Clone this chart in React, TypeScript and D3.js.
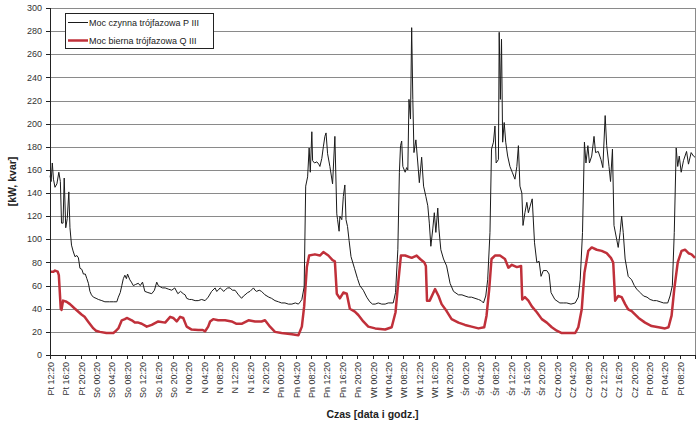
import React from 'react'
import * as d3 from 'd3'

// category labels on the x axis, one every 4 hours starting Friday 12:20
const timeLabels = [
  'Pt 12:20', 'Pt 16:20', 'Pt 20:20',
  'So 00:20', 'So 04:20', 'So 08:20', 'So 12:20', 'So 16:20', 'So 20:20',
  'N 00:20', 'N 04:20', 'N 08:20', 'N 12:20', 'N 16:20', 'N 20:20',
  'Pn 00:20', 'Pn 04:20', 'Pn 08:20', 'Pn 12:20', 'Pn 16:20', 'Pn 20:20',
  'Wt 00:20', 'Wt 04:20', 'Wt 08:20', 'Wt 12:20', 'Wt 16:20', 'Wt 20:20',
  'Śr 00:20', 'Śr 04:20', 'Śr 08:20', 'Śr 12:20', 'Śr 16:20', 'Śr 20:20',
  'Cz 00:20', 'Cz 04:20', 'Cz 08:20', 'Cz 12:20', 'Cz 16:20', 'Cz 20:20',
  'Pt 00:20', 'Pt 04:20', 'Pt 08:20'
]
const hoursPerLabel = 4
const totalHours = 168
const yTicks = d3.range(0, 301, 20)

// [hours since Pt 12:20, kW]
const activePower: [number, number][] = [
  [0, 155], [0.3, 150], [0.6, 166], [0.9, 152], [1.3, 145], [1.8, 148], [2.3, 158], [2.7, 150],
  [3.0, 114], [3.4, 114], [3.7, 153], [4.1, 110], [4.5, 118], [4.9, 141], [5.2, 110], [5.6, 95],
  [6.0, 90], [6.5, 85], [7.0, 86], [7.4, 84], [7.8, 75], [8.3, 74], [8.7, 70], [9.2, 70],
  [9.6, 66], [10.0, 62], [10.4, 55], [10.8, 52], [11.3, 50], [12.0, 49], [12.6, 48], [13.5, 47],
  [14.3, 46], [15.5, 46], [16.5, 46], [17.4, 46], [17.8, 50], [18.3, 54], [18.7, 60], [19.1, 66],
  [19.5, 69], [19.9, 66], [20.2, 70], [20.8, 65], [21.2, 63], [21.7, 60], [22.3, 61], [23.0, 62],
  [23.5, 60], [24.1, 63], [24.7, 55], [25.5, 54], [26.5, 53], [27.2, 56], [27.8, 63], [28.2, 60],
  [28.7, 59], [29.3, 58], [30.0, 58], [30.8, 57], [31.7, 56], [32.5, 58], [33.3, 53], [34.0, 55],
  [34.7, 53], [35.2, 52], [35.6, 49], [36.3, 48], [36.9, 48], [37.8, 47], [38.6, 47], [39.5, 48],
  [40.4, 47], [41.2, 50], [42.1, 55], [43.0, 58], [43.4, 55], [43.8, 56], [44.3, 58], [44.7, 57],
  [45.2, 55], [45.6, 56], [46.2, 58], [46.9, 58], [47.5, 56], [48.2, 56], [49.1, 52], [49.9, 49],
  [50.4, 51], [50.8, 52], [51.5, 54], [52.1, 55], [53.0, 58], [53.4, 56], [53.8, 55], [54.5, 56],
  [55.1, 55], [56.0, 52], [57.0, 50], [57.7, 49], [58.6, 47], [59.5, 46], [60.3, 45], [61.2, 45],
  [62.1, 44], [63.0, 44], [63.9, 45], [64.7, 44], [65.2, 46], [65.6, 48], [66.2, 59], [66.6, 146],
  [67.1, 154], [67.5, 179], [67.8, 158], [68.2, 193], [68.4, 168], [68.9, 166], [69.5, 167], [70.0, 165],
  [70.3, 163], [70.8, 170], [71.2, 180], [71.6, 189], [71.9, 192], [72.3, 174], [72.9, 163], [73.6, 148],
  [74.2, 189], [74.7, 122], [74.9, 117], [75.3, 107], [75.5, 120], [76.0, 117], [76.4, 137], [76.8, 147],
  [77.1, 117], [77.5, 111], [77.9, 99], [78.4, 85], [79.3, 75], [80.1, 66], [80.7, 60], [81.6, 56],
  [82.5, 50], [83.3, 46], [84.0, 44], [84.7, 44], [85.5, 45], [86.4, 44], [87.3, 44], [88.1, 45],
  [89.4, 45], [90.0, 54], [90.6, 91], [91.0, 158], [91.3, 181], [91.6, 185], [91.9, 163], [92.5, 158],
  [92.9, 162], [93.2, 160], [93.5, 221], [93.9, 204], [94.2, 283], [94.5, 221], [94.8, 175], [95.3, 186],
  [95.8, 166], [96.2, 149], [96.8, 171], [97.3, 146], [97.9, 137], [98.4, 129], [98.8, 114], [99.2, 94],
  [99.7, 109], [100.1, 123], [100.5, 106], [101.0, 127], [101.3, 109], [101.8, 91], [102.5, 83], [103.3, 77],
  [104.2, 62], [105.1, 55], [106.4, 52], [107.3, 52], [108.1, 51], [109.0, 50], [109.8, 50], [110.7, 49],
  [111.6, 48], [112.3, 47], [112.9, 45], [113.5, 51], [114.0, 65], [114.6, 106], [115.0, 178], [115.5, 184],
  [115.9, 198], [116.2, 166], [116.8, 169], [117.0, 279], [117.3, 221], [117.6, 273], [117.9, 184], [118.3, 201],
  [118.7, 184], [119.2, 172], [119.8, 163], [120.4, 158], [121.1, 152], [121.6, 163], [122.0, 181], [122.4, 146],
  [122.9, 140], [123.2, 112], [123.7, 123], [124.2, 132], [124.6, 123], [125.0, 128], [125.6, 135], [126.2, 97],
  [126.8, 80], [127.4, 81], [127.9, 68], [128.5, 73], [129.4, 73], [130.0, 70], [130.5, 54], [131.5, 48],
  [132.8, 45], [133.7, 45], [134.6, 45], [135.7, 44], [136.8, 45], [137.6, 50], [138.1, 65], [138.7, 106],
  [139.2, 184], [139.6, 166], [140.1, 181], [140.5, 166], [141.1, 172], [141.7, 189], [142.1, 175], [142.8, 176],
  [143.5, 169], [144.0, 162], [144.6, 207], [145.0, 181], [145.6, 163], [146.0, 150], [146.5, 178], [146.9, 112],
  [147.6, 100], [148.0, 93], [148.5, 106], [148.9, 120], [149.3, 106], [149.8, 83], [150.6, 68], [151.5, 65],
  [152.2, 60], [152.8, 57], [153.7, 54], [154.6, 51], [155.5, 50], [156.3, 48], [157.2, 47], [158.0, 47],
  [158.9, 46], [159.8, 45], [160.9, 45], [161.5, 51], [162.1, 60], [162.6, 106], [163.1, 179], [163.5, 163],
  [163.9, 172], [164.4, 158], [165.0, 168], [165.8, 176], [166.3, 165], [167.0, 175], [167.6, 172], [168.0, 171]
]

// [hours since Pt 12:20, kvar]
const reactivePower: [number, number][] = [
  [0, 72], [0.9, 72], [1.3, 73], [2.0, 72], [2.3, 69], [2.8, 40], [3.0, 39], [3.4, 47],
  [4.3, 46], [5.2, 44], [6.5, 40], [8.2, 35], [9.0, 33], [9.9, 29], [11.3, 23], [12.0, 21],
  [13.0, 20], [14.7, 19], [16.5, 19], [16.9, 20], [17.8, 23], [18.7, 30], [19.5, 31], [20.0, 32],
  [21.3, 30], [22.1, 28], [23.0, 28], [23.9, 27], [25.2, 24.5], [26.5, 26], [28.2, 29], [30.0, 28],
  [31.3, 33], [32.1, 32], [33.0, 29], [33.9, 33], [34.7, 32], [35.6, 24.5], [36.9, 22], [38.6, 21.6],
  [39.8, 21.6], [40.4, 20.5], [41.2, 24.5], [41.7, 29], [42.5, 31], [43.8, 30], [45.6, 30], [47.3, 29],
  [48.6, 27], [49.9, 27], [51.7, 30], [53.4, 29], [55.1, 29], [56.0, 30], [57.3, 24.5], [58.6, 20],
  [60.3, 19], [63.0, 18], [64.7, 17], [65.6, 24.5], [66.2, 42], [66.9, 76], [67.5, 86], [69.0, 87],
  [70.3, 86], [71.2, 89], [72.5, 86], [73.6, 82], [74.2, 81], [74.7, 53], [75.5, 49], [76.4, 54],
  [77.3, 53], [78.1, 40], [79.4, 37.5], [80.3, 34.6], [81.6, 29], [82.9, 24.5], [84.7, 23], [87.3, 22],
  [89.0, 24], [90.0, 37], [90.7, 62.5], [91.4, 86], [92.5, 86], [94.2, 84], [95.5, 86], [96.4, 83],
  [97.5, 80], [97.9, 77], [98.2, 47], [98.9, 47], [100.3, 57], [101.2, 51], [102.0, 44], [103.3, 38],
  [104.6, 31], [106.4, 28], [108.1, 26], [109.8, 24.5], [111.6, 23], [113.1, 24], [113.7, 34], [114.4, 57],
  [115.0, 83], [115.9, 86], [117.2, 86], [118.5, 83], [119.4, 75.5], [120.3, 78], [121.6, 76], [122.7, 77],
  [123.0, 48], [123.7, 50], [124.6, 47], [125.5, 42], [126.8, 37], [128.1, 31], [129.4, 28], [130.7, 24],
  [132.0, 21], [133.3, 19], [135.0, 19], [136.8, 19], [137.6, 24], [138.5, 39.5], [139.2, 71], [140.2, 90],
  [141.1, 93], [142.4, 91], [143.7, 90], [145.0, 88], [146.1, 84], [146.7, 80], [147.2, 47], [148.0, 51],
  [148.9, 50], [149.8, 44], [150.6, 39.5], [151.5, 38], [153.3, 32], [155.0, 28], [156.7, 25], [158.5, 24],
  [160.2, 23], [161.1, 24], [161.9, 34], [162.6, 57], [163.5, 80], [164.5, 90], [165.4, 91], [166.3, 88],
  [167.1, 87], [168.0, 84]
]

const legendItems = [
  { label: 'Moc czynna trójfazowa P III', color: '#1a1a1a', width: 1 },
  { label: 'Moc bierna trójfazowa Q III', color: '#c0303a', width: 2.5 }
]

const font = 'Arial, "Liberation Sans", sans-serif'

export default function App() {
  const width = 700
  const height = 431
  const margin = { top: 8, right: 5, bottom: 76, left: 50 }

  const x = d3.scaleLinear()
    .domain([0, totalHours])
    .range([margin.left, width - margin.right])
  const y = d3.scaleLinear()
    .domain([0, 300])
    .range([height - margin.bottom, margin.top])

  const line = d3.line<[number, number]>()
    .x(d => x(d[0]))
    .y(d => y(d[1]))

  const x0 = x(0)
  const x1 = x(totalHours)
  const yBottom = y(0)

  return (
    <svg
      width={width}
      height={height}
      style={{ position: 'absolute', left: 0, top: 0, background: '#fff' }}
      fontFamily={font}
    >
      {/* horizontal grid */}
      {yTicks.map(t => (
        <line key={t} x1={x0} x2={x1} y1={Math.round(y(t)) + 0.5} y2={Math.round(y(t)) + 0.5}
          stroke="#8a8a8a" strokeWidth={1} />
      ))}
      {/* plot area right border */}
      <line x1={Math.round(x1) + 0.5} x2={Math.round(x1) + 0.5} y1={y(300)} y2={yBottom}
        stroke="#8a8a8a" strokeWidth={1} />

      {/* series */}
      <path d={line(reactivePower) || ''} fill="none" stroke="#c0303a" strokeWidth={2.5} strokeLinejoin="round" />
      <path d={line(activePower) || ''} fill="none" stroke="#1a1a1a" strokeWidth={1} strokeLinejoin="round" />

      {/* y axis */}
      <line x1={Math.round(x0) + 0.5} x2={Math.round(x0) + 0.5} y1={y(300)} y2={yBottom} stroke="#222" />
      {yTicks.map(t => (
        <g key={t}>
          <line x1={x0 - 4} x2={x0} y1={Math.round(y(t)) + 0.5} y2={Math.round(y(t)) + 0.5} stroke="#222" />
          <text x={x0 - 8} y={y(t)} dy="0.35em" textAnchor="end" fontSize={9} fill="#333">{t}</text>
        </g>
      ))}
      <text transform={`translate(12,${(y(0) + y(300)) / 2}) rotate(-90)`} textAnchor="middle"
        dy="0.35em" fontSize={10.5} fontWeight="bold" fill="#222">[kW, kvar]</text>

      {/* x axis */}
      <line x1={x0} x2={x1} y1={Math.round(yBottom) + 0.5} y2={Math.round(yBottom) + 0.5} stroke="#222" />
      {timeLabels.map((label, i) => {
        const tx = Math.round(x(i * hoursPerLabel)) + 0.5
        return (
          <g key={label + i}>
            <line x1={tx} x2={tx} y1={yBottom} y2={yBottom + 4} stroke="#222" />
            <text transform={`translate(${tx},${yBottom + 7}) rotate(-90)`} textAnchor="end" dy="0.35em"
              fontSize={9} fill="#333">{label}</text>
          </g>
        )
      })}
      <line x1={Math.round(x1) + 0.5} x2={Math.round(x1) + 0.5} y1={yBottom} y2={yBottom + 4} stroke="#222" />
      <text x={(x0 + x1) / 2} y={418} textAnchor="middle" fontSize={10.5} fontWeight="bold" fill="#222">
        Czas [data i godz.]
      </text>

      {/* legend */}
      <rect x={65.5} y={13.5} width={148} height={35} fill="#fff" stroke="#222" strokeWidth={1} />
      {legendItems.map((item, i) => (
        <g key={item.label}>
          <line x1={68} x2={88} y1={22.5 + i * 18} y2={22.5 + i * 18} stroke={item.color} strokeWidth={item.width} />
          <text x={89} y={22.5 + i * 18} dy="0.35em" fontSize={9} fill="#222">{item.label}</text>
        </g>
      ))}
    </svg>
  )
}
